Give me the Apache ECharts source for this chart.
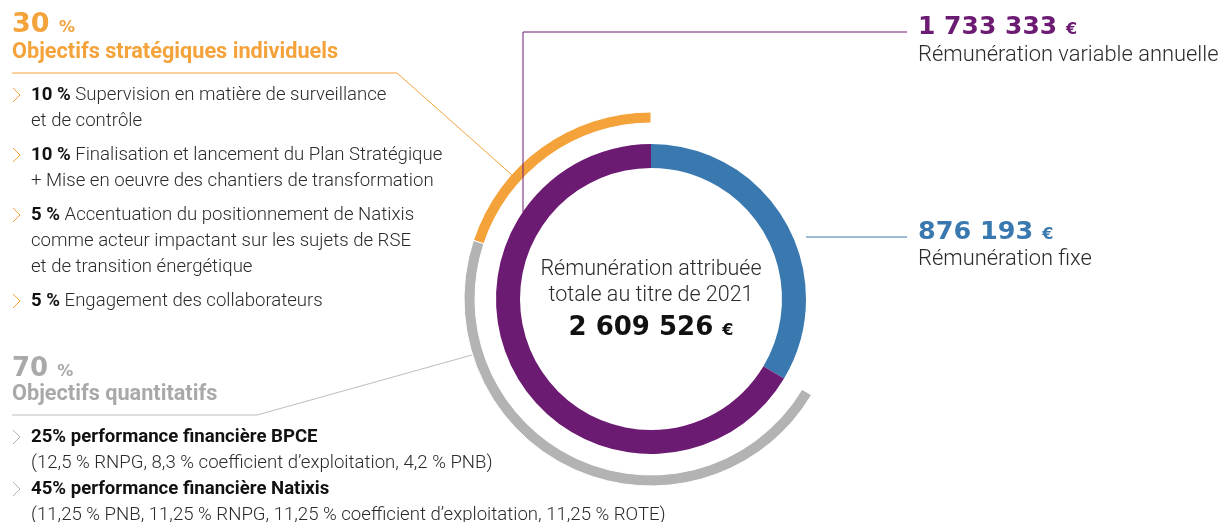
<!DOCTYPE html>
<html>
<head>
<meta charset="utf-8">
<script src="https://cdn.jsdelivr.net/npm/echarts@6/dist/echarts.min.js"></script>
<style>
  html, body { margin: 0; padding: 0; background: #fff; }
  #chart { width: 1221px; height: 522px; }
</style>
</head>
<body>
<div id="chart"></div>
<script>
// données
const partNames = ['Rémunération fixe', 'Rémunération variable annuelle'];
const partValues = [876193, 1733333];
const objectifNames = ['Objectifs stratégiques individuels', 'Objectifs quantitatifs'];
const objectifShares = [30, 70];
const strategiques = [
  ['10 %', ' Supervision en matière de surveillance', 'et de contrôle'],
  ['10 %', ' Finalisation et lancement du Plan Stratégique', '+ Mise en oeuvre des chantiers de transformation'],
  ['5 %', ' Accentuation du positionnement de Natixis', 'comme acteur impactant sur les sujets de RSE', 'et de transition énergétique'],
  ['5 %', ' Engagement des collaborateurs']
];
const quantitatifs = [
  ['25% performance financière BPCE', '(12,5 % RNPG, 8,3 % coefficient d\u2019exploitation, 4,2 % PNB)'],
  ['45% performance financière Natixis', '(11,25 % PNB, 11,25 % RNPG, 11,25 % coefficient d\u2019exploitation, 11,25 % ROTE)']
];

const BLUE = '#3a79b0', PURPLE = '#6c1b72', ORANGE = '#f4a23a', GREY = '#b3b3b3', GREY_TXT = '#a9a9a9', DARK = '#2b2b2b';
const NUM_FONT = '"DejaVu Sans", sans-serif';
const TXT_FONT = 'Roboto, sans-serif';

const total = partValues[0] + partValues[1];
const fmt = v => String(v).replace(/\B(?=(\d{3})+(?!\d))/g, ' ');

const chart = echarts.init(document.getElementById('chart'));
const cx = 651, cy = 299;

const graphics = [];
function txt(x, y, text, font, color, rich, align) {
  graphics.push({
    type: 'text', x: x, y: y, z: 50,
    style: { text: text, font: font, fill: color, rich: rich || {}, align: align || 'left', verticalAlign: 'middle' }
  });
}
function line(points, color) {
  graphics.push({ type: 'polyline', z: 40, shape: { points: points }, style: { stroke: color, lineWidth: 1, fill: null } });
}
function chevron(x, y, color) {
  graphics.push({ type: 'polyline', z: 40, shape: { points: [[x, y - 7], [x + 7, y], [x, y + 7]] }, style: { stroke: color, lineWidth: 1, fill: null } });
}
function bigNum(x, y, num, unit, color, size, align) {
  txt(x, y, '{n|' + num + '} {e|' + unit + '}', 'bold ' + size + 'px ' + NUM_FONT, color, {
    n: { font: 'bold ' + size + 'px ' + NUM_FONT, fill: color },
    e: { font: 'bold 16px ' + NUM_FONT, fill: color, padding: [5, 0, 0, 0] }
  }, align);
}

// bloc 30 %
bigNum(12, 25, objectifShares[0], '%', ORANGE, 27);
txt(12, 53, objectifNames[0], 'bold 21.7px ' + TXT_FONT, ORANGE);
let y = 95;
const gaps = [34, 34, 34, 0];
strategiques.forEach((item, i) => {
  chevron(13, y, ORANGE);
  txt(31, y, '{b|' + item[0] + '}' + item[1], '300 18.6px ' + TXT_FONT, DARK, {
    b: { font: 'bold 18.6px ' + TXT_FONT, fill: '#111' }
  });
  for (let k = 2; k < item.length; k++) {
    y += 26;
    txt(31, y, item[k], '300 18.6px ' + TXT_FONT, DARK);
  }
  y += gaps[i];
});

// bloc 70 %
bigNum(12, 369, objectifShares[1], '%', GREY_TXT, 26);
txt(12, 395, objectifNames[1], 'bold 21.7px ' + TXT_FONT, GREY_TXT);
y = 437;
quantitatifs.forEach(item => {
  chevron(13, y, GREY);
  txt(31, y, item[0], 'bold 18.6px ' + TXT_FONT, '#111');
  y += 26;
  txt(31, y, item[1], '300 18.6px ' + TXT_FONT, DARK);
  y += 26;
});

// libellés à droite
bigNum(918, 27, fmt(partValues[1]), '€', PURPLE, 25);
txt(918, 56, partNames[1], '300 21.9px ' + TXT_FONT, DARK);
bigNum(918, 232, fmt(partValues[0]), '€', BLUE, 25.5);
txt(918, 260, partNames[0], '300 21.9px ' + TXT_FONT, DARK);

// centre
txt(cx, 270, 'Rémunération attribuée', '300 21.5px ' + TXT_FONT, DARK, null, 'center');
txt(cx, 296, 'totale au titre de 2021', '300 21.5px ' + TXT_FONT, DARK, null, 'center');
bigNum(cx, 328, fmt(total), '€', '#111', 26, 'center');

// traits de rappel
line([[523, 212], [523, 32], [907, 32]], PURPLE);
line([[806, 237], [907, 237]], BLUE);
line([[12, 73], [397, 73], [512, 175]], ORANGE);
line([[12, 415], [257, 415], [472, 355]], '#bdbdbd');

const option = {
  animation: false,
  series: [
    {
      type: 'pie',
      center: [cx, cy],
      radius: [131, 155],
      startAngle: 90,
      clockwise: true,
      silent: true,
      label: { show: false },
      labelLine: { show: false },
      data: [
        { name: partNames[0], value: partValues[0], itemStyle: { color: BLUE } },
        { name: partNames[1], value: partValues[1], itemStyle: { color: PURPLE } }
      ]
    },
    {
      type: 'pie',
      center: [cx, cy],
      radius: [176, 187],
      startAngle: 90,
      clockwise: false,
      silent: true,
      label: { show: false },
      labelLine: { show: false },
      data: [
        { name: objectifNames[0], value: partValues[1] * objectifShares[0] / 100, itemStyle: { color: ORANGE, borderColor: '#fff', borderWidth: 1 } },
        { name: objectifNames[1], value: partValues[1] * objectifShares[1] / 100, itemStyle: { color: GREY, borderColor: '#fff', borderWidth: 1 } },
        { name: 'vide', value: partValues[0], itemStyle: { color: 'transparent' } }
      ]
    }
  ],
  graphic: graphics
};
chart.setOption(option);
</script>
</body>
</html>
